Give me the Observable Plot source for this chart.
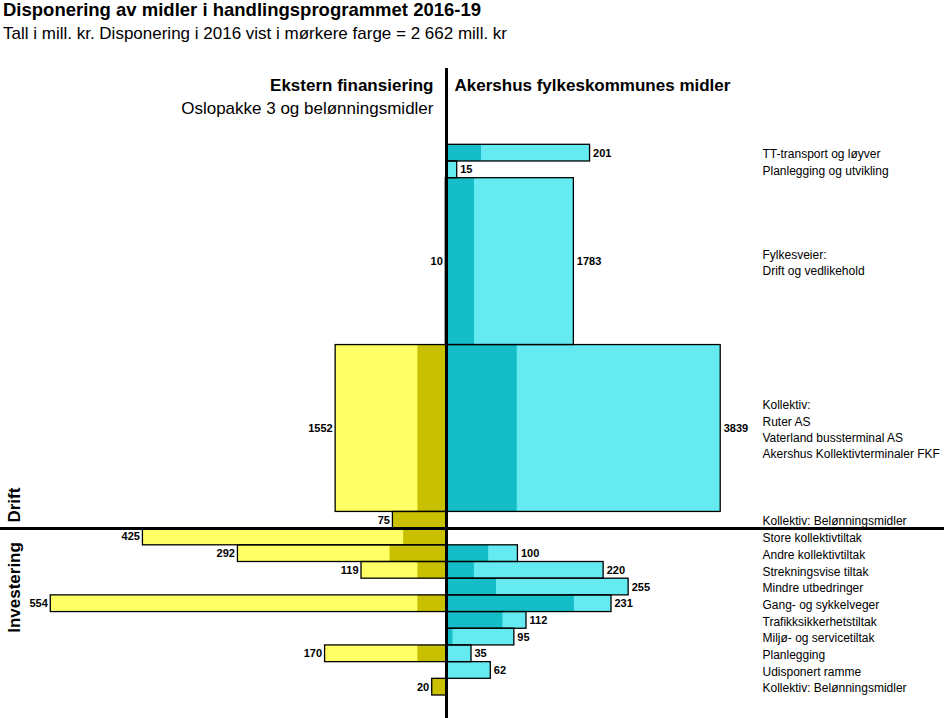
<!DOCTYPE html>
<html><head><meta charset="utf-8">
<script src="https://cdn.jsdelivr.net/npm/d3@7"></script>
<script src="https://cdn.jsdelivr.net/npm/@observablehq/plot@0.6"></script>
<style>
body{margin:0;background:#fff;font-family:Arial,"Liberation Sans",sans-serif;color:#000;}
#wrap{position:relative;width:944px;height:718px;overflow:hidden;}
#title{position:absolute;left:3px;top:1px;font-weight:bold;font-size:18.5px;line-height:18.5px;white-space:nowrap;}
#sub{position:absolute;left:3px;top:25px;font-size:17px;line-height:17px;white-space:nowrap;}
#chart{position:absolute;left:0;top:50px;}
</style></head><body>
<div id="wrap">
<div id="title">Disponering av midler i handlingsprogrammet 2016-19</div>
<div id="sub">Tall i mill. kr. Disponering i 2016 vist i mørkere farge = 2 662 mill. kr</div>
<div id="chart"></div>
</div>
<script>
// ---- data (top to bottom) ----
const kategorier = [
  "TT-transport og løyver",
  "Planlegging og utvikling",
  "Fylkesveier:\nDrift og vedlikehold",
  "Kollektiv:\nRuter AS\nVaterland bussterminal AS\nAkershus Kollektivterminaler FKF",
  "Kollektiv: Belønningsmidler",
  "Store kollektivtiltak",
  "Andre kollektivtiltak",
  "Strekningsvise tiltak",
  "Mindre utbedringer",
  "Gang- og sykkelveger",
  "Trafikksikkerhetstiltak",
  "Miljø- og servicetiltak",
  "Planlegging",
  "Udisponert ramme",
  "Kollektiv: Belønningsmidler"
];
const seksjon = ["Drift","Drift","Drift","Drift","Drift",
  "Investering","Investering","Investering","Investering","Investering",
  "Investering","Investering","Investering","Investering","Investering"];
// relative row thickness (bar area = amount)
const tykkelse = [1, 1, 10, 10, 1, 1, 1, 1, 1, 1, 1, 1, 1, 1, 1];
// Ekstern finansiering (Oslopakke 3 og belønningsmidler)
const eksternTotal = [0, 0, 10, 1552, 75, 425, 292, 119, 0, 554, 0, 0, 170, 0, 20];
const ekstern2016  = [0, 0, 0, 400, 75, 60, 79, 40, 0, 40, 0, 0, 40, 0, 20];
// Akershus fylkeskommunes midler
const afkTotal = [201, 15, 1783, 3839, 0, 0, 100, 220, 255, 231, 112, 95, 35, 62, 0];
const afk2016  = [49, 0, 392, 990, 0, 0, 59, 39, 70, 179, 79, 9, 0, 0, 0];
const seksjoner = ["Drift", "Investering"];

const colLight = "#66EAF1", colDark = "#14BDC8", colYellow = "#FFFF66", colOlive = "#C8C000";

// build rows
let acc = 0;
const rows = kategorier.map((k, i) => {
  const r = {label: k, sek: seksjon[i], t: tykkelse[i], y0: acc, y1: acc + tykkelse[i],
    ext: eksternTotal[i], ext16: ekstern2016[i], afk: afkTotal[i], afk16: afk2016[i]};
  acc += tykkelse[i];
  return r;
});
const total = acc;
const driftEnd = d3.sum(rows.filter(r => r.sek === seksjoner[0]), r => r.t);
const mid = r => (r.y0 + r.y1) / 2;
const right = rows.filter(r => r.afk > 0);
const left = rows.filter(r => r.ext > 0);

const k = 1.4; // value-per-row-unit per pixel
const W = 944, H = 668, axisPx = 446;

const chart = Plot.plot({
  width: W, height: H,
  marginTop: 18, marginBottom: 0, marginLeft: 0, marginRight: 0,
  x: {domain: [-axisPx * k, (W - axisPx) * k], range: [0, W], axis: null},
  y: {domain: [0, total], range: [94.3, 645], axis: null},
  style: {fontFamily: "Arial, 'Liberation Sans', sans-serif", fontSize: "12px", background: "white", color: "black"},
  marks: [
    // right side bars
    Plot.rect(right, {x1: 0, x2: r => r.afk / r.t, y1: "y0", y2: "y1", fill: colLight}),
    Plot.rect(right.filter(r => r.afk16 > 0), {x1: 0, x2: r => r.afk16 / r.t, y1: "y0", y2: "y1", fill: colDark}),
    Plot.rect(right, {x1: 0, x2: r => r.afk / r.t, y1: "y0", y2: "y1", fill: "none", stroke: "black", strokeWidth: 1.3}),
    // left side bars
    Plot.rect(left, {x1: 0, x2: r => -r.ext / r.t, y1: "y0", y2: "y1", fill: colYellow}),
    Plot.rect(left.filter(r => r.ext16 > 0), {x1: 0, x2: r => -r.ext16 / r.t, y1: "y0", y2: "y1", fill: colOlive}),
    Plot.rect(left, {x1: 0, x2: r => -r.ext / r.t, y1: "y0", y2: "y1", fill: "none", stroke: "black", strokeWidth: 1.3}),
    // value labels
    Plot.text(right, {x: r => r.afk / r.t, y: mid, text: r => String(r.afk), dx: 3, textAnchor: "start", fontWeight: "bold", fontSize: 11}),
    Plot.text(left, {x: r => -r.ext / r.t, y: mid, text: r => String(r.ext), dx: -3, textAnchor: "end", fontWeight: "bold", fontSize: 11}),
    // category labels
    Plot.text(rows, {y: mid, text: "label", frameAnchor: "left", dx: 762, textAnchor: "start", fontSize: 12, lineHeight: 1.35}),
    // axes lines
    Plot.ruleX([0], {stroke: "black", strokeWidth: 3}),
    Plot.ruleY([driftEnd], {stroke: "black", strokeWidth: 3}),
    // section labels
    Plot.text([seksjoner[0]], {y: driftEnd, frameAnchor: "left", dx: 14, dy: -6, rotate: -90, textAnchor: "start", fontWeight: "bold", fontSize: 17}),
    Plot.text([seksjoner[1]], {y: driftEnd, frameAnchor: "left", dx: 14, dy: 13.5, rotate: -90, textAnchor: "end", fontWeight: "bold", fontSize: 17}),
    // column headers
    Plot.text(["Ekstern finansiering"], {x: 0, frameAnchor: "top", dx: -13, dy: 10.6, textAnchor: "end", fontWeight: "bold", fontSize: 17}),
    Plot.text(["Akershus fylkeskommunes midler"], {x: 0, frameAnchor: "top", dx: 8, dy: 10.6, textAnchor: "start", fontWeight: "bold", fontSize: 17}),
    Plot.text(["Oslopakke 3 og belønningsmidler"], {x: 0, frameAnchor: "top", dx: -13, dy: 33, textAnchor: "end", fontSize: 17})
  ]
});
document.getElementById("chart").appendChild(chart);
</script>
</body></html>
